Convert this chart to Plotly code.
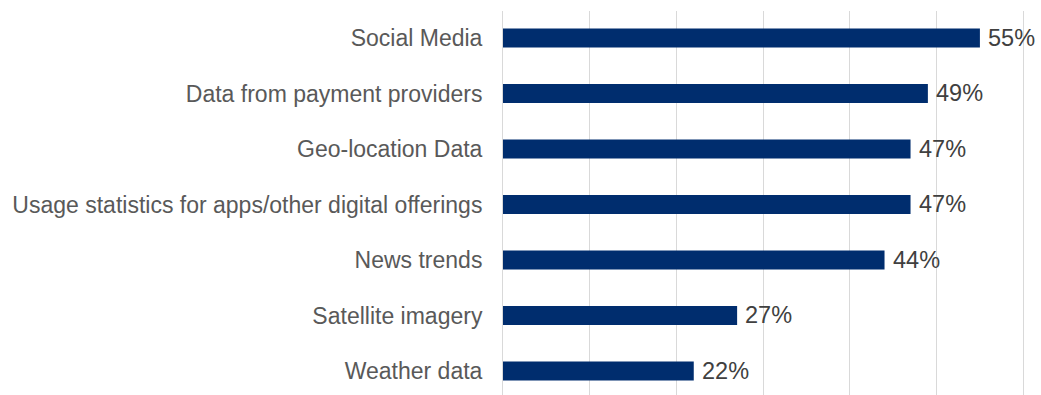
import plotly.graph_objects as go

categories = [
    "Social Media",
    "Data from payment providers",
    "Geo-location Data",
    "Usage statistics for apps/other digital offerings",
    "News trends",
    "Satellite imagery",
    "Weather data",
]
values = [55, 49, 47, 47, 44, 27, 22]

# plotted bottom-to-top, so reverse to keep the first category on top
cats_plot = categories[::-1]
vals_plot = values[::-1]

fig = go.Figure(
    go.Bar(
        x=vals_plot,
        y=cats_plot,
        orientation="h",
        marker=dict(color="#002D6E", line=dict(width=0)),
        width=0.34,
        hoverinfo="skip",
    )
)

for c, v in zip(cats_plot, vals_plot):
    fig.add_annotation(
        x=v, y=c, text=f"{v}%", showarrow=False,
        xanchor="left", xshift=6,
        font=dict(family="Liberation Sans, Arial", size=23.5, color="#404040"),
    )

fig.update_layout(
    width=1041, height=395,
    margin=dict(l=503, r=16, t=11, b=0),
    paper_bgcolor="white", plot_bgcolor="white",
    showlegend=False,
    font=dict(family="Liberation Sans, Arial", size=23, color="#595959"),
    xaxis=dict(
        range=[0, 60.2], tickvals=[10, 20, 30, 40, 50, 60], showticklabels=False,
        showgrid=True, gridcolor="#D9D9D9", gridwidth=1,
        zeroline=False, fixedrange=True,
    ),
    yaxis=dict(
        showgrid=False, zeroline=False,
        showline=True, linecolor="#D9D9D9", linewidth=1,
        ticks="", ticklabelstandoff=15,
        tickfont=dict(size=23, color="#595959"),
        range=[-0.433, 6.486],
    ),
)

fig.write_html("out.html")
